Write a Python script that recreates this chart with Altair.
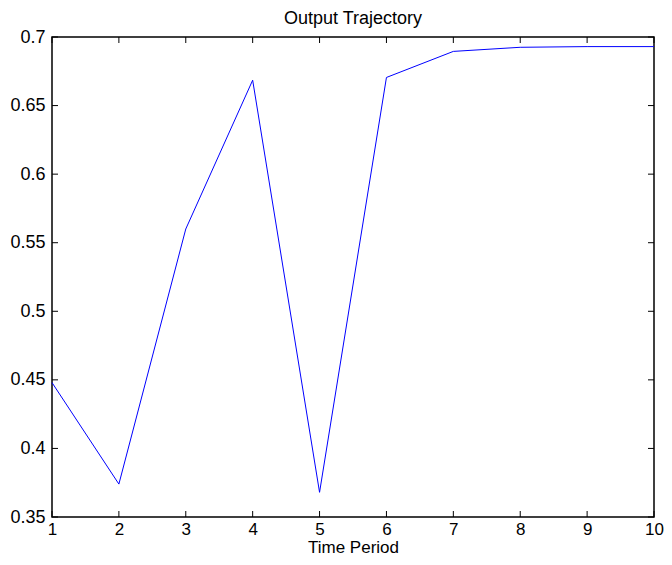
import altair as alt
import pandas as pd

periods = [1, 2, 3, 4, 5, 6, 7, 8, 9, 10]
output = [0.448, 0.374, 0.560, 0.6685, 0.368, 0.6705, 0.6895, 0.6925, 0.693, 0.693]
x_ticks = [1, 2, 3, 4, 5, 6, 7, 8, 9, 10]
y_ticks = [0.35, 0.4, 0.45, 0.5, 0.55, 0.6, 0.65, 0.7]

W, H = 602, 480
FONT = "Liberation Sans"
FS = 18
FSX = 17

df = pd.DataFrame({"t": periods, "y": output})
xt = pd.DataFrame({"t": x_ticks})
yt = pd.DataFrame({"y": y_ticks})

xscale = alt.Scale(domain=[1, 10], nice=False, zero=False)
yscale = alt.Scale(domain=[0.35, 0.7], nice=False, zero=False)

line = alt.Chart(df).mark_line(color="#0000ff", strokeWidth=1).encode(
    x=alt.X("t:Q", scale=xscale, title="Time Period",
            axis=alt.Axis(values=x_ticks, format="d", labelPadding=4, titlePadding=2,
                          labelFontSize=FSX, titleFontSize=FSX)),
    y=alt.Y("y:Q", scale=yscale, title=None,
            axis=alt.Axis(values=y_ticks, format=".2~f", labelPadding=7)),
)

tick_style = dict(color="black", strokeWidth=1)
xb = alt.Chart(xt).mark_rule(**tick_style).encode(
    x=alt.X("t:Q", scale=xscale), y=alt.value(H), y2=alt.value(H - 6))
xtop = alt.Chart(xt).mark_rule(**tick_style).encode(
    x=alt.X("t:Q", scale=xscale), y=alt.value(0), y2=alt.value(6))
yl = alt.Chart(yt).mark_rule(**tick_style).encode(
    y=alt.Y("y:Q", scale=yscale), x=alt.value(0), x2=alt.value(6))
yr = alt.Chart(yt).mark_rule(**tick_style).encode(
    y=alt.Y("y:Q", scale=yscale), x=alt.value(W), x2=alt.value(W - 6))

chart = alt.layer(line, xb, xtop, yl, yr).properties(
    width=W, height=H,
    background="white",
    title=alt.TitleParams("Output Trajectory", font=FONT, fontSize=FS,
                          fontWeight="normal", color="black", anchor="middle",
                          offset=0),
    autosize=alt.AutoSizeParams(type="none"),
    padding={"left": 44, "top": 29, "right": 10, "bottom": 40},
).configure_view(
    stroke="black", strokeWidth=1.5
).configure_axis(
    tickSize=0, domain=False, grid=False,
    labelFontSize=FS, labelFont=FONT, labelColor="black", labelFlush=False,
    titleFont=FONT, titleFontSize=FS, titleFontWeight="normal", titleColor="black",
)

chart.save("out.html", embed_options={"renderer": "svg", "actions": False})
